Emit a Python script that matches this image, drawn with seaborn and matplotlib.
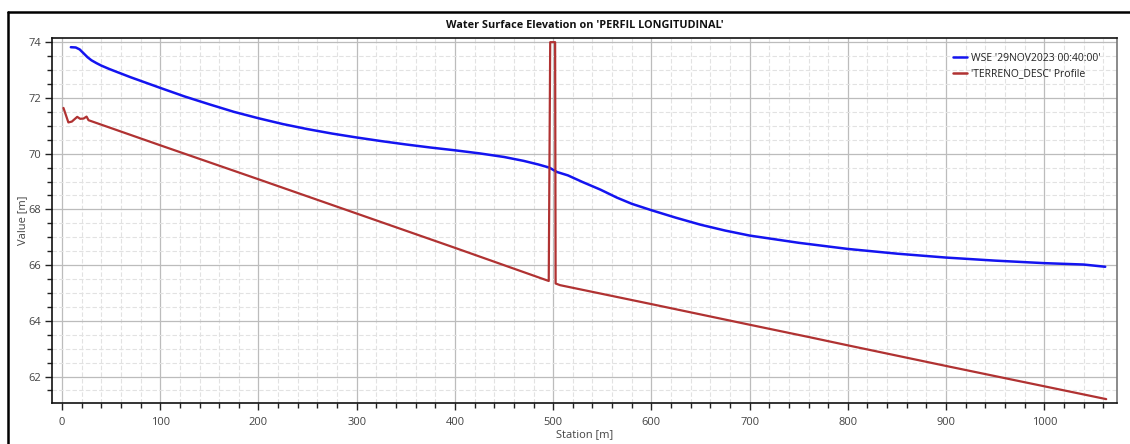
import matplotlib
matplotlib.use("Agg")
import matplotlib.pyplot as plt
from matplotlib.ticker import MultipleLocator
from matplotlib.lines import Line2D
import seaborn as sns
import pandas as pd

# ---- data ----
wse_station = [9, 14, 18, 22, 26, 30, 35, 40, 48, 56, 70, 85, 100, 125, 150, 175,
               200, 225, 250, 275, 300, 325, 350, 375, 400, 425, 450, 470, 485,
               496, 504, 515, 530, 548, 565, 580, 600, 625, 650, 675, 700, 750,
               800, 850, 900, 950, 1000, 1040, 1062]
wse_value = [73.82, 73.81, 73.74, 73.60, 73.46, 73.35, 73.25, 73.16, 73.04, 72.93,
             72.74, 72.55, 72.36, 72.05, 71.77, 71.50, 71.27, 71.06, 70.88, 70.72,
             70.58, 70.45, 70.33, 70.22, 70.12, 70.01, 69.88, 69.74, 69.61, 69.50,
             69.34, 69.22, 68.98, 68.71, 68.42, 68.20, 67.97, 67.70, 67.45, 67.24,
             67.06, 66.80, 66.58, 66.41, 66.27, 66.16, 66.07, 66.02, 65.94]

terr_station = [1.5, 6.5, 10, 15.5, 18.5, 22, 25, 27, 100, 200, 300, 400, 495.5,
                497, 502, 502.5, 507, 600, 700, 760, 800, 900, 1000, 1063]
terr_value = [71.64, 71.12, 71.15, 71.32, 71.25, 71.26, 71.33, 71.20, 70.30, 69.08,
              67.85, 66.62, 65.43, 74.00, 74.00, 65.34, 65.28, 64.60, 63.86, 63.42,
              63.12, 62.38, 61.65, 61.19]

wse_label = "WSE '29NOV2023 00:40:00'"
terr_label = "'TERRENO_DESC' Profile"
title = "Water Surface Elevation on 'PERFIL LONGITUDINAL'"

wse = pd.DataFrame({"station": wse_station, "value": wse_value})
terr = pd.DataFrame({"station": terr_station, "value": terr_value})

sns.set_theme(style="white")
plt.rcParams["font.family"] = ["Open Sans", "DejaVu Sans"]

fig = plt.figure(figsize=(11.3, 4.44), dpi=100)
ax = fig.add_axes([0.046, 0.0923, 0.9425, 0.8221])

blue = "#1414f0"
red = "#b03232"
sns.lineplot(data=wse, x="station", y="value", ax=ax, color=blue, lw=1.8,
             sort=False, estimator=None)
sns.lineplot(data=terr, x="station", y="value", ax=ax, color=red, lw=1.6,
             sort=False, estimator=None)

ax.set_xlim(-10.2, 1074)
ax.set_ylim(61.05, 74.15)
ax.xaxis.set_major_locator(MultipleLocator(100))
ax.xaxis.set_minor_locator(MultipleLocator(20))
ax.yaxis.set_major_locator(MultipleLocator(2))
ax.yaxis.set_minor_locator(MultipleLocator(0.5))

ax.grid(which="major", color="#bcbcbc", lw=0.9, ls="-")
ax.grid(which="minor", color="#e2e2e2", lw=0.8, ls=(0, (4, 2)))
ax.set_axisbelow(True)

ax.tick_params(which="major", direction="out", length=5, width=1, color="#222222",
               labelsize=8, labelcolor="#444444", bottom=True, left=True)
ax.tick_params(axis="y", which="major", pad=3)
ax.tick_params(axis="x", which="major", pad=5)
ax.tick_params(which="minor", direction="out", length=3.5, width=1, color="#222222",
               bottom=True, left=True)

for side in ["left", "bottom", "top"]:
    ax.spines[side].set_color("#111111")
    ax.spines[side].set_linewidth(1.2)
ax.spines["right"].set_color("#777777")
ax.spines["right"].set_linewidth(1.2)

ax.set_xlabel("Station [m]", fontsize=8, color="#444444", labelpad=1)
ax.set_ylabel("Value [m]", fontsize=8, color="#444444", labelpad=0)
ax.set_title(title, fontsize=7.8, fontweight="bold", color="#111111", pad=7)

handles = [Line2D([], [], color=blue, lw=1.8), Line2D([], [], color=red, lw=1.8)]
ax.legend(handles, [wse_label, terr_label], loc="upper left",
          bbox_to_anchor=(0.8375, 0.985), frameon=False, fontsize=7.5,
          handlelength=1.3, handletextpad=0.4, labelspacing=0.45,
          labelcolor="#222222")

# outer panel frame (top and left edges)
fig.add_artist(Line2D([8 / 1130, 1.0], [1 - 12 / 444, 1 - 12 / 444],
                      color="black", lw=1.8, transform=fig.transFigure))
fig.add_artist(Line2D([8 / 1130, 8 / 1130], [0.0, 1 - 12 / 444],
                      color="black", lw=1.8, transform=fig.transFigure))

fig.savefig("out.png", dpi=100)
